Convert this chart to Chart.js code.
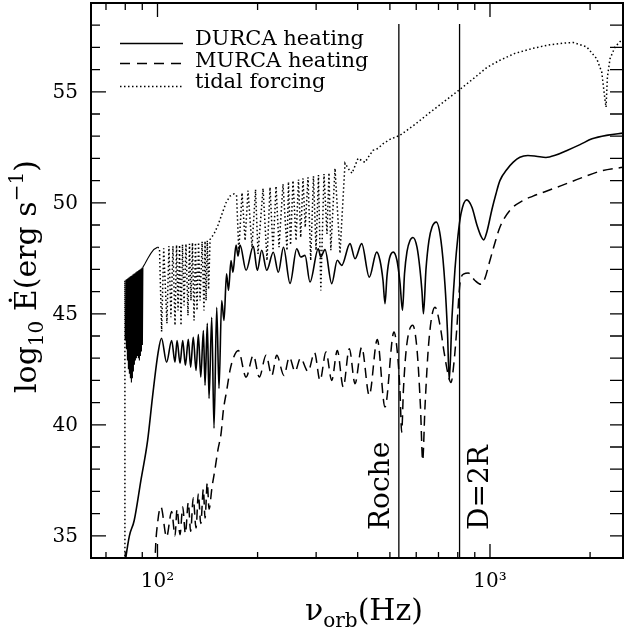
<!DOCTYPE html>
<html lang="en">
<head>
  <meta charset="UTF-8">
  <title>Tidal heating vs orbital frequency</title>
  <script src="https://cdn.jsdelivr.net/npm/chart.js"></script>
  <style>
    html, body { margin: 0; padding: 0; overflow: hidden; background: #fff; }
    canvas { display: block; }
  </style>
</head>
<body>
<canvas id="heatChart" width="624" height="632"></canvas>

<script>
  // DURCA heating (solid)
  const durcaNu = [
    79.5, 80.35, 82.32, 85.1, 89.15, 93.4, 96.6, 100.3, 102.8,
    106.5, 110.3, 112.9, 114.5, 116.9, 119.1, 121.3, 123.8, 125.8, 128.1, 130.6, 132.7, 134.96, 137.4, 139.0, 141.2, 142.9, 145.6, 147.9, 150.7, 153.1, 156.0,
    158.5, 161.3, 163.5, 166.4, 168.6, 172.3, 174.7, 177.1,
    184.7, 194.2, 199.6, 205.8, 213.1, 223.0, 230.9, 239.3, 250.4, 262.3, 269.6, 277.8, 287.5, 304.5, 309.7, 319.0, 334.2, 347.4, 358.1, 379.3, 392.7, 411.3, 433.4, 456.3,
    466.9, 476.7, 483.3, 490.0, 498.6, 511.8, 525.2, 536.2, 545.5, 553.2, 562.8, 574.6, 586.6, 603.2, 615.8, 624.4, 630.8, 641.9, 655.2, 669.1, 689.4, 712.1, 732.2, 744.9, 754.2, 768.4, 784.6, 801.0, 817.8, 850.7, 882.5, 913.5, 939.3, 956.8, 979.0, 1013.5, 1042, 1071, 1124, 1175, 1230, 1300, 1375, 1473, 1578, 1705, 1865, 2027, 2265, 2512
  ];
  const durcaLogE = [
    33.5, 34.04, 35.0, 35.69, 37.5, 39.3, 41.25, 43.2, 43.9,
    42.82, 43.8, 42.82, 43.8, 42.77, 43.8, 42.68, 43.85, 42.6, 43.94, 42.45, 44.07, 42.15, 44.25, 41.78, 44.57, 41.19, 44.84, 39.84, 45.29, 41.64, 45.6,
    44.7, 46.8, 46.06, 47.4, 46.87, 48.1, 47.6, 48.1,
    46.96, 48.04, 46.96, 47.86, 46.96, 47.77, 46.87, 48.0, 46.37, 47.93, 47.56, 47.63, 46.43, 47.93, 47.56, 47.89, 46.36, 47.41, 47.18, 48.16, 47.48, 48.16, 46.65, 47.78,
    47.4, 46.5, 45.46, 46.7, 47.5, 47.78, 47.4, 46.4, 45.16, 46.8, 47.8, 48.3, 48.44, 48.0, 47.0, 46.0, 45.0, 47.0, 48.3, 48.9, 49.13, 48.3, 46.3, 44.2, 42.0, 44.8, 47.0, 48.5, 49.5, 50.13, 49.8, 49.0, 48.5, 48.33, 48.7, 49.7, 50.4, 51.0, 51.5, 51.83, 52.05, 52.13, 52.1, 52.04, 52.15, 52.36, 52.62, 52.88, 53.05, 53.14
  ];

  // MURCA heating (dashed)
  const murcaNu = [
    98.2, 98.4, 100.3, 102.4,
    106.5, 110.3, 112.9, 114.5, 116.9, 119.1, 121.3, 123.8, 125.8, 128.1, 130.6, 132.7, 134.96, 137.4, 139.0, 141.2, 142.9,
    145.9, 148.9, 152.1, 155.3, 157.8, 161.5, 165.2, 169.0, 175.0,
    184.7, 194.2, 202.4, 212.1, 220.6, 228.4, 240.1, 249.2, 259.2, 269.2, 283.6, 296.7, 308.2, 321.2, 334.2, 347.4, 362.0, 377.5, 392.7, 411.3, 433.4, 458.2, 483.3, 514.2,
    527.0, 536.2, 542.5, 549.2, 560.9, 585.4, 603.2, 617.9, 627.4, 637.5, 655.2, 683.2, 707.2, 727.2, 747.5, 763.2, 779.2, 793.9, 812.2, 835.0, 860.1, 901.0, 939.3, 965.6, 999.6, 1035, 1071, 1148, 1259, 1347, 1463, 1624, 1865, 2143, 2512
  ];
  const murcaLogE = [
    33.5, 34.04, 35.7, 36.3,
    34.95, 36.1, 35.0, 36.2, 35.05, 36.3, 35.1, 36.5, 35.2, 36.7, 35.35, 36.9, 35.55, 37.1, 35.8, 37.4, 36.2,
    37.2, 38.0, 38.9, 39.6, 40.65, 41.55, 42.45, 43.0, 43.35,
    42.15, 43.13, 42.15, 43.13, 42.22, 43.13, 42.22, 43.05, 42.4, 43.0, 42.4, 43.25, 42.0, 43.28, 42.0, 43.35, 41.7, 43.43, 41.85, 43.5, 41.33, 43.84, 40.8, 44.18,
    43.2, 41.5, 39.67, 41.6, 43.5, 44.48, 43.4, 40.8, 38.4, 40.8, 43.8, 45.3, 44.5, 43.3, 42.3, 41.9, 42.8, 44.25, 46.36, 46.8, 46.84, 46.5, 46.33, 46.6, 47.4, 48.2, 48.9, 49.66, 50.11, 50.3, 50.5, 50.75, 51.1, 51.42, 51.6
  ];

  // tidal forcing (dotted)
  const tidalNu = [
    79.8, 79.8,
    80.07, 80.35, 80.63, 80.91, 81.19, 81.47, 81.75, 82.04, 82.32, 82.61, 82.89, 83.18, 83.47, 83.76, 84.05, 84.34, 84.63, 84.93,
    85.22, 85.52, 85.81, 86.11, 86.41, 86.71, 87.01, 87.31, 87.61, 87.92, 88.22, 88.53, 88.84, 89.15, 89.46, 89.77, 90.08, 90.39,
    91.65, 93.57, 95.5, 97.5, 100.0, 101.4, 102.9, 104.4,
    106.76, 108.25, 109.76, 111.3, 112.9, 114.1, 115.3, 116.5, 117.7, 118.9, 120.2, 121.8, 123.5, 124.8, 126.1, 127.4, 128.8, 130.1, 131.5, 132.9, 134.3, 136.2, 138.0, 139.0, 140.0, 141.2, 142.5, 143.9,
    147.9, 152.1, 156.3, 160.7, 165.2, 169.9, 172.9,
    175.6, 179.6, 183.4, 187.2, 192.4, 197.2, 200.6, 207.7, 213.5, 218.0, 222.6, 227.3, 232.0, 238.5, 245.2, 247.7, 251.3, 255.6, 261.0, 265.5, 269.6, 273.9, 278.2, 283.6, 288.9, 294.5, 299.8, 304.9, 309.9, 316.8, 323.4, 327.9, 332.1, 341.9, 353.9, 366.4,
    376.6, 384.6, 400.9, 412.2, 420.8, 432.5, 444.7, 460.4, 476.6, 500.3, 536.2, 594.9, 659.9, 732.2, 812.2, 901.0, 979.0, 1071, 1188, 1347, 1514, 1681, 1780, 1954, 2094, 2168, 2218, 2234, 2255, 2296, 2377, 2512
  ];
  const tidalLogE = [
    33.0, 46.5,
    43.8, 46.53, 43.4, 46.57, 42.9, 46.6, 42.5, 46.63, 42.3, 46.67, 42.1, 46.7, 41.9, 46.73, 42.1, 46.77, 42.4, 46.8,
    42.7, 46.83, 42.9, 46.87, 43.0, 46.9, 43.1, 46.93, 43.0, 46.97, 42.9, 47.0, 43.1, 47.03, 43.3, 47.07, 43.6, 47.1,
    47.25, 47.5, 47.72, 47.9, 48.0, 47.95, 44.2, 47.95,
    44.57, 48.05, 44.84, 48.05, 44.48, 48.1, 45.15, 48.1, 44.48, 48.12, 45.38, 48.15, 44.93, 48.15, 45.6, 48.2, 44.7, 48.2, 45.15, 48.22, 45.6, 48.25, 45.15, 48.28, 45.6, 48.3, 46.1, 48.35,
    48.6, 49.0, 49.5, 50.0, 50.3, 50.4, 50.35,
    47.8, 50.45, 48.3, 50.55, 48.0, 50.6, 47.7, 50.65, 47.4, 50.7, 47.85, 50.75, 48.0, 50.85, 47.85, 50.95, 48.1, 51.0, 48.3, 51.05, 48.44, 51.1, 48.9, 51.15, 47.4, 51.2, 47.86, 51.25, 46.05, 51.3, 48.6, 51.35, 47.86, 51.55, 47.72, 51.78,
    51.5, 51.33, 52.0, 51.9, 51.82, 52.1, 52.36, 52.45, 52.66, 52.86, 53.04, 53.53, 54.07, 54.59, 55.11, 55.65, 56.1, 56.42, 56.73, 56.96, 57.12, 57.2, 57.22, 57.02, 56.49, 55.89, 54.62, 54.31, 55.67, 56.49, 57.02, 57.4
  ];

  // marker lines (Hz)
  const rocheNu = 532;
  const twoRNu = 810;
  const markerTop = 58.05;

  // axes
  const xMin = 63.1, xMax = 2512;
  const yMin = 34, yMax = 59;
  const xMajor = [100, 1000];
  const xMajorLabels = ['10²', '10³'];
  const xMinor = [70, 80, 90, 200, 300, 400, 500, 600, 700, 800, 900, 2000];
  const yMajor = [35, 40, 45, 50, 55];

  const FONT = '"DejaVu Serif", "Liberation Serif", serif';

  function toPoints(xs, ys) {
    const n = Math.min(xs.length, ys.length);
    const out = [];
    for (let i = 0; i < n; i++) out.push({ x: xs[i], y: ys[i] });
    return out;
  }

  // frame, inward ticks, tick labels, legend, marker labels and axis titles
  const decorPlugin = {
    id: 'decor',
    afterDraw(chart) {
      const { ctx, chartArea: a, scales: { x, y } } = chart;
      ctx.save();
      ctx.strokeStyle = '#000';
      ctx.fillStyle = '#000';
      ctx.setLineDash([]);

      ctx.lineWidth = 2;
      ctx.strokeRect(a.left, a.top, a.right - a.left, a.bottom - a.top);

      ctx.lineWidth = 1.3;
      ctx.beginPath();
      xMinor.forEach(v => {
        const px = x.getPixelForValue(v);
        ctx.moveTo(px, a.bottom); ctx.lineTo(px, a.bottom - 6);
        ctx.moveTo(px, a.top); ctx.lineTo(px, a.top + 7);
      });
      xMajor.forEach(v => {
        const px = x.getPixelForValue(v);
        ctx.moveTo(px, a.bottom); ctx.lineTo(px, a.bottom - 14);
        ctx.moveTo(px, a.top); ctx.lineTo(px, a.top + 14);
      });
      for (let v = yMin + 1; v < yMax; v++) {
        const py = y.getPixelForValue(v);
        const len = yMajor.includes(v) ? 15 : 9;
        ctx.moveTo(a.left, py); ctx.lineTo(a.left + len, py);
        ctx.moveTo(a.right, py); ctx.lineTo(a.right - 13, py);
      }
      ctx.stroke();

      // tick labels
      ctx.font = '20px ' + FONT;
      ctx.textAlign = 'right';
      ctx.textBaseline = 'middle';
      yMajor.forEach(v => ctx.fillText(String(v), a.left - 13, y.getPixelForValue(v) + 1));
      ctx.textAlign = 'center';
      ctx.textBaseline = 'alphabetic';
      xMajor.forEach((v, i) => ctx.fillText(xMajorLabels[i], x.getPixelForValue(v), 587));

      // legend
      const legendText = ['DURCA heating', 'MURCA heating', 'tidal forcing'];
      const legendLineY = [43.5, 63.5, 86.5];
      const legendTextY = [45, 66.5, 88];
      const legendDash = [[], [10, 7], [1.5, 2.5]];
      ctx.font = '21px ' + FONT;
      ctx.textAlign = 'left';
      legendText.forEach((t, i) => {
        ctx.beginPath();
        ctx.lineWidth = 1.5;
        ctx.setLineDash(legendDash[i]);
        ctx.moveTo(120, legendLineY[i]);
        ctx.lineTo(183, legendLineY[i]);
        ctx.stroke();
        ctx.setLineDash([]);
        ctx.fillText(t, 195, legendTextY[i]);
      });

      // vertical marker labels
      ctx.font = '28px ' + FONT;
      const rx = x.getPixelForValue(rocheNu);
      ctx.save();
      ctx.translate(rx - 10, 530);
      ctx.rotate(-Math.PI / 2);
      ctx.fillText('Roche', 0, 0);
      ctx.restore();
      const dx = x.getPixelForValue(twoRNu);
      ctx.save();
      ctx.translate(dx + 28, 530);
      ctx.rotate(-Math.PI / 2);
      ctx.fillText('D=2R', 0, 0);
      ctx.restore();

      // axis titles
      let cx = 0;
      const part = (t, size, dy) => {
        ctx.font = size + 'px ' + FONT;
        ctx.fillText(t, cx, dy);
        cx += ctx.measureText(t).width;
      };
      ctx.save();
      ctx.translate(36, 393);
      ctx.rotate(-Math.PI / 2);
      cx = 0;
      part('log', 30, 0);
      part('10', 20, 7);
      part(' Ė(erg s', 30, 0);
      part('−1', 20, -13);
      part(')', 30, 0);
      ctx.restore();

      ctx.save();
      ctx.translate(305, 620);
      cx = 0;
      part('ν', 30, 0);
      part('orb', 20, 7);
      part('(Hz)', 30, 0);
      ctx.restore();

      ctx.restore();
    }
  };

  // the densely oscillating low-frequency tidal band prints as a solid block
  const tidalDash = c => (c.p1.parsed.x <= 100.5 && c.p0.parsed.x > 79.9 ? [] : [1.5, 2.5]);
  const tidalWidth = c => (c.p1.parsed.x <= 100.5 && c.p0.parsed.x > 79.9 ? 1.1 : 1.5);

  const ctx = document.getElementById('heatChart').getContext('2d');
  const heatChart = new Chart(ctx, {
    type: 'line',
    data: {
      datasets: [
        { data: toPoints(durcaNu, durcaLogE), borderColor: '#000', borderWidth: 1.6, cubicInterpolationMode: 'monotone' },
        { data: toPoints(murcaNu, murcaLogE), borderColor: '#000', borderWidth: 1.5, borderDash: [10, 6], cubicInterpolationMode: 'monotone' },
        { data: toPoints(tidalNu, tidalLogE), borderColor: '#000', borderWidth: 1.5, borderDash: [1.5, 2.5], tension: 0,
          segment: { borderDash: tidalDash, borderWidth: tidalWidth } },
        { data: [{ x: rocheNu, y: markerTop }, { x: rocheNu, y: yMin - 1 }], borderColor: '#000', borderWidth: 1.3 },
        { data: [{ x: twoRNu, y: markerTop }, { x: twoRNu, y: yMin - 1 }], borderColor: '#000', borderWidth: 1.3 }
      ]
    },
    options: {
      responsive: false,
      animation: false,
      events: [],
      layout: { autoPadding: false, padding: { top: 3, right: 1, left: 91, bottom: 74 } },
      elements: { point: { radius: 0 } },
      plugins: { legend: { display: false }, tooltip: { enabled: false } },
      scales: {
        x: { type: 'logarithmic', min: xMin, max: xMax, display: false },
        y: { min: yMin, max: yMax, display: false }
      }
    },
    plugins: [decorPlugin]
  });
</script>
</body>
</html>
